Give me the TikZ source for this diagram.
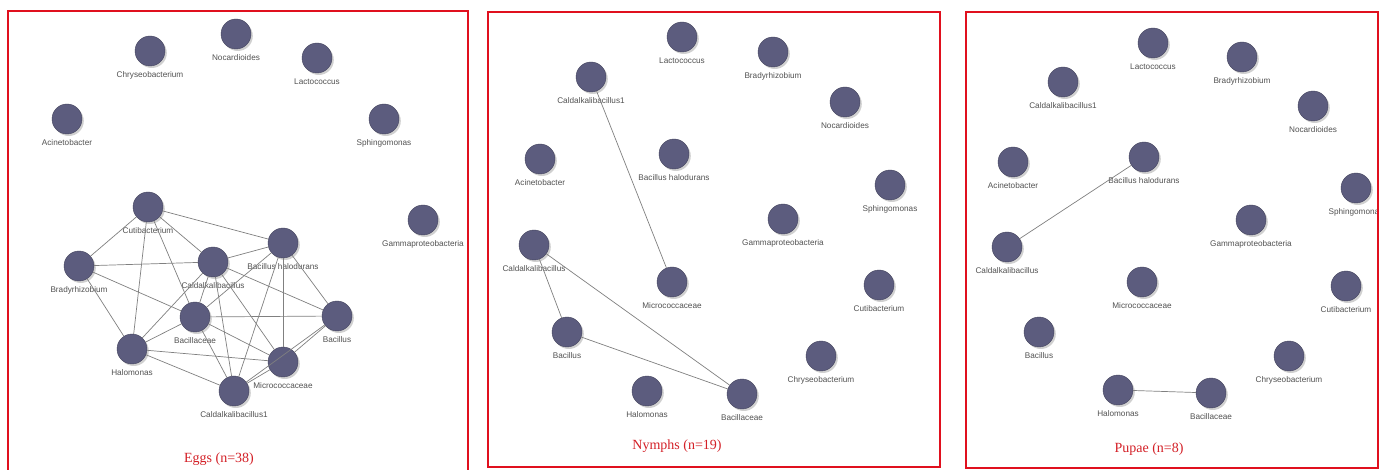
\documentclass[tikz,border=0pt]{standalone}
\usepackage{fontspec}
\setmainfont{Liberation Serif}
\setsansfont{Liberation Sans}
\usetikzlibrary{shadows}
\definecolor{nodeblue}{HTML}{5C5C7E}
\definecolor{edgegray}{HTML}{808080}
\definecolor{framered}{HTML}{E0101E}
\definecolor{titlered}{HTML}{D42027}

\begin{document}
\begin{tikzpicture}[x=1pt, y=-1pt,
	taxon/.style={circle, fill=nodeblue, draw=nodeblue!75!black, line width=0.4pt, minimum size=30pt, inner sep=0pt,
		drop shadow={shadow xshift=1.8pt, shadow yshift=-2pt, opacity=0.3, fill=black!60}},
	every label/.style={font=\sffamily\fontsize{8.2}{9}\selectfont, text=black!68, inner sep=0pt},
	label distance=5.5pt,
	link/.style={draw=edgegray, line width=0.7pt},
	panel/.style={draw=framered, line width=2.8pt},
	caption/.style={font=\fontsize{14}{16}\selectfont, text=titlered}]
	\useasboundingbox (0,0) rectangle (1385,470);
	\fill[white] (0,0) rectangle (1385,470);
	
	% Eggs
	\node[taxon, label=below:Nocardioides] (eNoc) at (236,34) {};
	\node[taxon, label=below:Chryseobacterium] (eChr) at (150,51) {};
	\node[taxon, label=below:Lactococcus] (eLac) at (317,58) {};
	\node[taxon, label=below:Acinetobacter] (eAci) at (67,119) {};
	\node[taxon, label=below:Sphingomonas] (eSph) at (384,119) {};
	\node[taxon, label=below:Gammaproteobacteria] (eGam) at (423,220) {};
	\node[taxon, label=below:Cutibacterium] (eCut) at (148,207) {};
	\node[taxon, label=below:Bradyrhizobium] (eBra) at (79,266) {};
	\node[taxon, label=below:Caldalkalibacillus] (eCal) at (213,262) {};
	\node[taxon, label=below:Bacillus halodurans] (eBha) at (283,243) {};
	\node[taxon, label=below:Bacillaceae] (eBce) at (195,317) {};
	\node[taxon, label=below:Bacillus] (eBac) at (337,316) {};
	\node[taxon, label=below:Halomonas] (eHal) at (132,349) {};
	\node[taxon, label=below:Micrococcaceae] (eMic) at (283,362) {};
	\node[taxon, label=below:Caldalkalibacillus1] (eCa1) at (234,391) {};
	\node[caption] (eggs) at (219,459) {Eggs (n=38)};
	\begin{scope}[every path/.style={link}]
		\path (eCut) edge (eBra) edge (eHal) edge (eBce) edge (eCal) edge (eBha);
		\path (eBra) edge (eCal) edge (eBce) edge (eHal);
		\path (eCal) edge (eBha) edge (eBac) edge (eBce) edge (eHal) edge (eMic) edge (eCa1);
		\path (eBha) edge (eBce) edge (eBac) edge (eMic) edge (eCa1);
		\path (eBce) edge (eBac) edge (eHal) edge (eMic) edge (eCa1);
		\path (eHal) edge (eMic) edge (eCa1);
		\path (eBac) edge (eMic) edge (eCa1);
		\path (eMic) edge (eCa1);
	\end{scope}
	\draw[panel] (8,11) rectangle (468,480);
	
	% Nymphs
	\node[taxon, label=below:Lactococcus] (nLac) at (682,37) {};
	\node[taxon, label=below:Bradyrhizobium] (nBra) at (773,52) {};
	\node[taxon, label=below:Caldalkalibacillus1] (nCa1) at (591,77) {};
	\node[taxon, label=below:Nocardioides] (nNoc) at (845,102) {};
	\node[taxon, label=below:Acinetobacter] (nAci) at (540,159) {};
	\node[taxon, label=below:Bacillus halodurans] (nBha) at (674,154) {};
	\node[taxon, label=below:Sphingomonas] (nSph) at (890,185) {};
	\node[taxon, label=below:Gammaproteobacteria] (nGam) at (783,219) {};
	\node[taxon, label=below:Caldalkalibacillus] (nCal) at (534,245) {};
	\node[taxon, label=below:Micrococcaceae] (nMic) at (672,282) {};
	\node[taxon, label=below:Cutibacterium] (nCut) at (879,285) {};
	\node[taxon, label=below:Bacillus] (nBac) at (567,332) {};
	\node[taxon, label=below:Chryseobacterium] (nChr) at (821,356) {};
	\node[taxon, label=below:Halomonas] (nHal) at (647,391) {};
	\node[taxon, label=below:Bacillaceae] (nBce) at (742,394) {};
	\node[caption] (nymphs) at (677,446) {Nymphs (n=19)};
	\begin{scope}[every path/.style={link}]
		\path (nCa1) edge (nMic);
		\path (nCal) edge (nBac) edge (nBce);
		\path (nBac) edge (nBce);
	\end{scope}
	\draw[panel] (488,12) rectangle (940,467);
	
	% Pupae
	\begin{scope}
		\clip (966,12) rectangle (1378,468);
		\node[taxon, label=below:Lactococcus] (pLac) at (1153,43) {};
		\node[taxon, label=below:Bradyrhizobium] (pBra) at (1242,57) {};
		\node[taxon, label=below:Caldalkalibacillus1] (pCa1) at (1063,82) {};
		\node[taxon, label=below:Nocardioides] (pNoc) at (1313,106) {};
		\node[taxon, label=below:Acinetobacter] (pAci) at (1013,162) {};
		\node[taxon, label=below:Bacillus halodurans] (pBha) at (1144,157) {};
		\node[taxon, label=below:Sphingomonas] (pSph) at (1356,188) {};
		\node[taxon, label=below:Gammaproteobacteria] (pGam) at (1251,220) {};
		\node[taxon, label=below:Caldalkalibacillus] (pCal) at (1007,247) {};
		\node[taxon, label=below:Micrococcaceae] (pMic) at (1142,282) {};
		\node[taxon, label=below:Cutibacterium] (pCut) at (1346,286) {};
		\node[taxon, label=below:Bacillus] (pBac) at (1039,332) {};
		\node[taxon, label=below:Chryseobacterium] (pChr) at (1289,356) {};
		\node[taxon, label=below:Halomonas] (pHal) at (1118,390) {};
		\node[taxon, label=below:Bacillaceae] (pBce) at (1211,393) {};
	\end{scope}
	\node[caption] (pupae) at (1149,449) {Pupae (n=8)};
	\begin{scope}[every path/.style={link}]
		\path (pBha) edge (pCal);
		\path (pHal) edge (pBce);
	\end{scope}
	\draw[panel] (966,12) rectangle (1378,468);
\end{tikzpicture}
\end{document}
